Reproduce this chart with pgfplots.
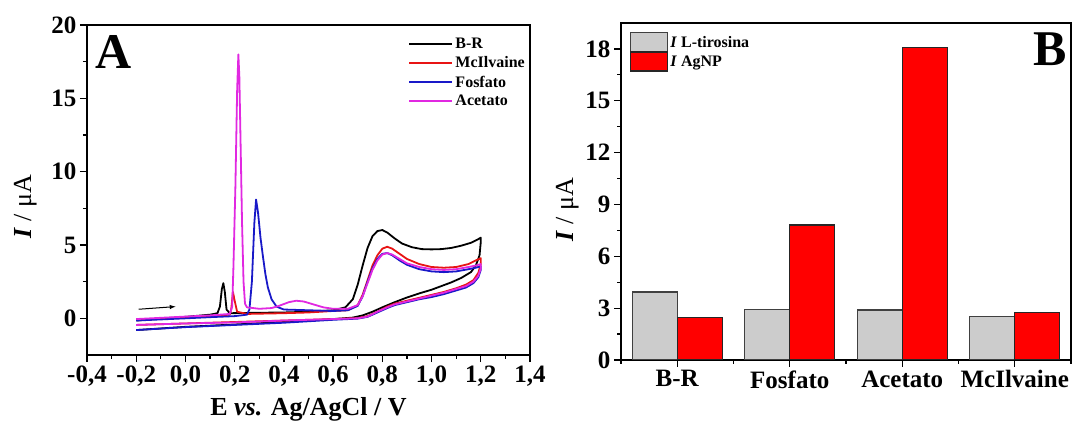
\documentclass[border=0pt]{standalone}
\usepackage{fontspec}
\setmainfont{Liberation Serif}
\usepackage{pgfplots}
\pgfplotsset{compat=1.18}
\definecolor{cvred}{RGB}{232,20,20}
\definecolor{cvblue}{RGB}{25,25,200}
\definecolor{cvmag}{RGB}{225,40,225}
\definecolor{bargray}{RGB}{204,204,204}
\definecolor{barred}{RGB}{255,0,0}
\pgfplotsset{
  every axis/.append style={
    scale only axis,
    tick align=outside,
    tick pos=left,
    major tick length=7pt,
    minor tick length=4pt,
    axis line style={line width=1.6pt},
    every tick/.style={line width=1.3pt, black},
    /pgf/number format/assume math mode=true,
    ticklabel style={font=\fontsize{25}{25}\selectfont\bfseries},
    label style={font=\fontsize{26}{26}\selectfont},
  }
}
\begin{document}
\begin{tikzpicture}
% ---------- Panel A ----------
\begin{axis}[
  name=A, at={(0pt,0pt)}, anchor=south west,
  width=443pt, height=330pt,
  xmin=-0.4, xmax=1.4, ymin=-2.5, ymax=20,
  xtick={-0.4,-0.2,0,0.2,0.4,0.6,0.8,1.0,1.2,1.4},
  minor x tick num=1,
  ytick={0,5,10,15,20}, minor y tick num=1,
  xticklabel style={/pgf/number format/.cd, fixed, fixed zerofill, precision=1, use comma},
  xlabel={\bfseries E \textit{vs.} Ag/AgCl / V},
  xlabel style={yshift=-5pt},
  ylabel={\textbf{\textit{I}} / μA},
  ylabel style={at={(ticklabel cs:0.45)}, yshift=8pt},
  legend style={at={(rel axis cs:1,1)}, anchor=north east, draw=none, fill=none,
    font=\fontsize{16}{16}\selectfont\bfseries, row sep=2.5pt, xshift=0pt, yshift=-9pt},
  legend cell align=left,
  legend image code/.code={\draw[#1, line width=2pt] (0pt,0pt) -- (43pt,0pt);},
  every axis plot/.append style={line join=round},
]
\addplot[black, line width=1.8pt] coordinates {
(-0.20,-0.15) (-0.10,-0.02) (0.00,0.10) (0.10,0.25) (0.13,0.35) (0.14,0.8) (0.148,2.0) (0.154,2.4) (0.160,1.8) (0.167,0.6) (0.18,0.35)
(0.30,0.38) (0.40,0.40) (0.50,0.45) (0.60,0.55) (0.65,0.75) (0.68,1.3) (0.70,2.3) (0.72,3.6) (0.74,4.8) (0.76,5.6) (0.78,5.95)
(0.80,6.02) (0.82,5.85) (0.85,5.45) (0.88,5.10) (0.92,4.85) (0.96,4.72) (1.00,4.70) (1.04,4.72) (1.08,4.80) (1.12,4.95) (1.16,5.15) (1.19,5.40) (1.20,5.50)
(1.20,5.2) (1.195,4.3) (1.18,3.6) (1.16,3.15) (1.12,2.75) (1.08,2.45) (1.04,2.2) (1.00,1.95) (0.95,1.7) (0.90,1.42) (0.85,1.1)
(0.80,0.75) (0.76,0.45) (0.72,0.2) (0.68,0.05) (0.60,-0.05) (0.40,-0.25) (0.20,-0.42) (0.00,-0.58) (-0.20,-0.80)
};
\addlegendentry{B-R}
\addplot[cvred, line width=1.8pt] coordinates {
(-0.20,-0.10) (0.00,0.05) (0.10,0.15) (0.18,0.25) (0.186,0.6) (0.193,1.8) (0.200,1.2) (0.21,0.45) (0.25,0.30) (0.40,0.35) (0.50,0.40)
(0.60,0.50) (0.66,0.55) (0.70,0.9) (0.72,1.6) (0.74,2.6) (0.76,3.6) (0.78,4.3) (0.80,4.75) (0.82,4.88) (0.84,4.75) (0.87,4.4)
(0.90,4.05) (0.95,3.7) (1.00,3.5) (1.05,3.45) (1.10,3.5) (1.15,3.7) (1.18,3.95) (1.20,4.1)
(1.20,3.7) (1.19,3.1) (1.17,2.6) (1.14,2.3) (1.10,2.05) (1.05,1.8) (1.00,1.6) (0.95,1.4) (0.90,1.2) (0.85,1.0) (0.82,0.8)
(0.78,0.45) (0.74,0.15) (0.70,0.02) (0.60,-0.05) (0.40,-0.15) (0.20,-0.25) (0.00,-0.35) (-0.20,-0.45)
};
\addlegendentry{McIlvaine}
\addplot[cvblue, line width=1.8pt] coordinates {
(-0.20,-0.15) (0.00,0.00) (0.10,0.08) (0.20,0.15) (0.25,0.25) (0.26,0.6) (0.27,2.5) (0.28,6.5) (0.287,8.1) (0.295,7.2) (0.305,5.5)
(0.315,4.2) (0.325,3.0) (0.335,2.1) (0.35,1.3) (0.37,0.8) (0.40,0.6) (0.50,0.55) (0.60,0.50) (0.66,0.55) (0.70,0.85) (0.72,1.5)
(0.74,2.5) (0.76,3.4) (0.78,4.05) (0.80,4.4) (0.82,4.45) (0.84,4.3) (0.87,3.95) (0.90,3.65) (0.95,3.35) (1.00,3.2) (1.05,3.15)
(1.10,3.2) (1.15,3.35) (1.18,3.45) (1.20,3.55)
(1.20,3.3) (1.19,2.8) (1.17,2.4) (1.14,2.1) (1.10,1.9) (1.05,1.65) (1.00,1.45) (0.95,1.3) (0.90,1.1) (0.85,0.9) (0.82,0.7)
(0.78,0.4) (0.74,0.1) (0.70,-0.02) (0.60,-0.1) (0.40,-0.3) (0.20,-0.45) (0.00,-0.6) (-0.20,-0.8)
};
\addlegendentry{Fosfato}
\addplot[cvmag, line width=1.8pt] coordinates {
(-0.20,-0.05) (0.00,0.12) (0.10,0.20) (0.18,0.30) (0.19,0.8) (0.195,3.5) (0.203,9.0) (0.210,15.5) (0.215,18.0) (0.219,16.5)
(0.224,12.0) (0.230,6.5) (0.236,2.5) (0.242,1.0) (0.25,0.75) (0.30,0.65) (0.35,0.70) (0.38,0.85) (0.42,1.1) (0.45,1.2) (0.48,1.15)
(0.52,0.95) (0.56,0.75) (0.60,0.65) (0.66,0.65) (0.70,0.9) (0.72,1.5) (0.74,2.4) (0.76,3.3) (0.78,3.95) (0.80,4.35) (0.82,4.45)
(0.84,4.35) (0.87,4.05) (0.90,3.75) (0.95,3.5) (1.00,3.35) (1.05,3.3) (1.10,3.35) (1.15,3.5) (1.18,3.6) (1.20,3.7)
(1.20,3.4) (1.19,2.9) (1.17,2.5) (1.14,2.2) (1.10,2.0) (1.05,1.75) (1.00,1.55) (0.95,1.35) (0.90,1.15) (0.85,0.95) (0.82,0.75)
(0.78,0.45) (0.74,0.12) (0.70,0.0) (0.60,-0.05) (0.40,-0.15) (0.20,-0.28) (0.00,-0.35) (-0.20,-0.45)
};
\addlegendentry{Acetato}
\draw[-{latex}, line width=1pt] (axis cs:-0.19,0.62) -- (axis cs:-0.04,0.80);
\node[anchor=north west, inner sep=0pt, font=\fontsize{50}{50}\selectfont\bfseries] at (rel axis cs:0,1) [xshift=8pt, yshift=-10pt] {A};
\end{axis}
% ---------- Panel B ----------
\begin{axis}[
  at={(534pt,-5pt)}, anchor=south west,
  width=450pt, height=337pt,
  xmin=0.5, xmax=4.5, ymin=0, ymax=19.5,
  xtick={1,2,3,4},
  xticklabels={B-R,Fosfato,Acetato,McIlvaine},
  minor xtick={0.5,1.5,2.5,3.5,4.5},
  ytick={0,3,6,9,12,15,18}, minor y tick num=1,
  ylabel={\textbf{\textit{I}} / μA},
  ylabel style={at={(ticklabel cs:0.445)}},
  legend style={at={(rel axis cs:0,1)}, anchor=north west, draw=none, fill=none,
    font=\fontsize{16}{16}\selectfont\bfseries, row sep=-1pt, xshift=6pt, yshift=-7pt},
  legend cell align=left,
  legend image code/.code={\draw[#1] (0pt,-9pt) rectangle (37pt,10pt);},
]
\addplot[ybar, bar width=0.4, bar shift=-0.2, fill=bargray, draw=black!75, line width=1.2pt] coordinates {
(1,3.93) (2,2.93) (3,2.89) (4,2.52)
};
\addlegendentry{\textbf{\textit{I} L-tirosina}}
\addplot[ybar, bar width=0.4, bar shift=0.2, fill=barred, draw=black!85, line width=1.2pt] coordinates {
(1,2.45) (2,7.81) (3,18.1) (4,2.75)
};
\addlegendentry{\textbf{\textit{I} AgNP}}
\node[anchor=north east, inner sep=0pt, font=\fontsize{50}{50}\selectfont\bfseries] at (rel axis cs:1,1) [xshift=-4pt, yshift=-10pt] {B};
\end{axis}
\pgfresetboundingbox
\path[use as bounding box] (-87pt,-68pt) rectangle (990pt,355pt);
\end{tikzpicture}
\end{document}
